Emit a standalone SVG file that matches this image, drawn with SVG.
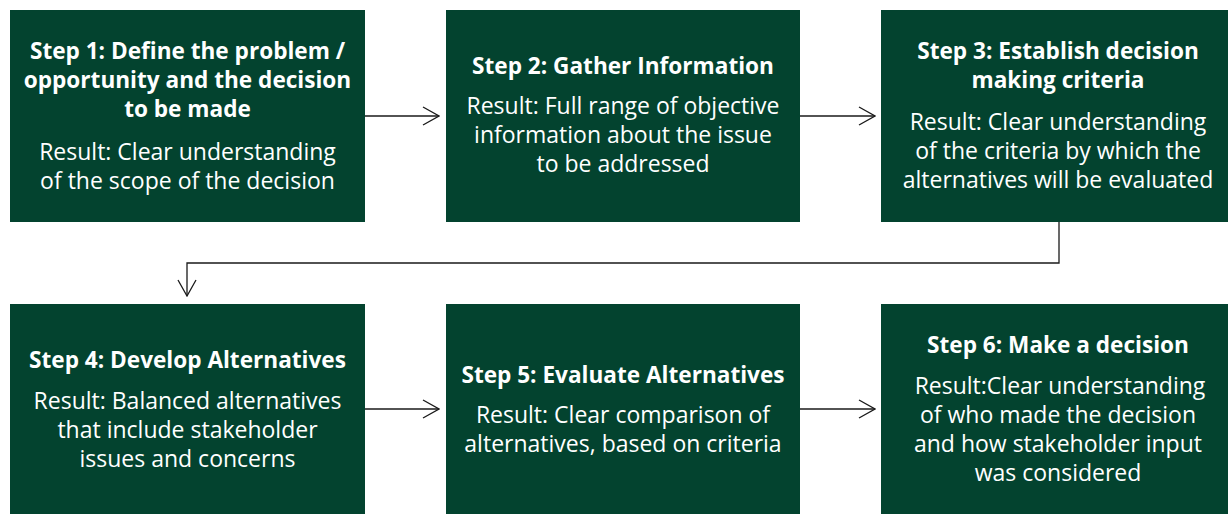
<svg xmlns="http://www.w3.org/2000/svg" width="1230" height="514" viewBox="0 0 1230 514">
  <style>
    .box { fill: #03432f; }
    .t { font-family: "Open Sans", Lato, "Liberation Sans", sans-serif; font-size: 23px; fill: #ffffff; text-anchor: middle; }
    .h { font-weight: bold; font-size: 22.6px; }
    .conn { fill: none; stroke: #1a1a1a; stroke-width: 1.3; }
  </style>
  <defs>
    <marker id="arrow" markerUnits="userSpaceOnUse" viewBox="0 0 18 20" markerWidth="18" markerHeight="20" refX="17" refY="10" orient="auto">
      <path d="M1,1 L17,10 L1,19" fill="none" stroke="#1a1a1a" stroke-width="1.3"/>
    </marker>
  </defs>

  <rect width="1230" height="514" fill="#ffffff"/>

  <g id="step1">
    <rect class="box" x="10" y="10" width="355" height="212"/>
    <text class="t h" x="187.5" y="59">Step 1: Define the problem /</text>
    <text class="t h" x="187.5" y="88">opportunity and the decision</text>
    <text class="t h" x="187.5" y="117">to be made</text>
    <text class="t" x="187.5" y="160">Result: Clear understanding</text>
    <text class="t" x="187.5" y="189">of the scope of the decision</text>
  </g>

  <g id="step2">
    <rect class="box" x="446" y="10" width="354" height="212"/>
    <text class="t h" x="623" y="74">Step 2: Gather Information</text>
    <text class="t" x="623" y="114">Result: Full range of objective</text>
    <text class="t" x="623" y="143">information about the issue</text>
    <text class="t" x="623" y="172">to be addressed</text>
  </g>

  <g id="step3">
    <rect class="box" x="881" y="10" width="347" height="212"/>
    <text class="t h" x="1058" y="59">Step 3: Establish decision</text>
    <text class="t h" x="1058" y="88">making criteria</text>
    <text class="t" x="1058" y="130">Result: Clear understanding</text>
    <text class="t" x="1058" y="159">of the criteria by which the</text>
    <text class="t" x="1058" y="188">alternatives will be evaluated</text>
  </g>

  <g id="step4">
    <rect class="box" x="10" y="304" width="355" height="210"/>
    <text class="t h" x="187.5" y="368">Step 4: Develop Alternatives</text>
    <text class="t" x="187.5" y="409">Result: Balanced alternatives</text>
    <text class="t" x="187.5" y="438">that include stakeholder</text>
    <text class="t" x="187.5" y="467">issues and concerns</text>
  </g>

  <g id="step5">
    <rect class="box" x="446" y="304" width="354" height="210"/>
    <text class="t h" x="623" y="383">Step 5: Evaluate Alternatives</text>
    <text class="t" x="623" y="423">Result: Clear comparison of</text>
    <text class="t" x="623" y="452">alternatives, based on criteria</text>
  </g>

  <g id="step6">
    <rect class="box" x="881" y="304" width="347" height="210"/>
    <text class="t h" x="1058" y="353">Step 6: Make a decision</text>
    <text class="t" x="1060" y="394">Result:Clear understanding</text>
    <text class="t" x="1058" y="423">of who made the decision</text>
    <text class="t" x="1058" y="452">and how stakeholder input</text>
    <text class="t" x="1058" y="481">was considered</text>
  </g>

  <g id="connectors">
    <path class="conn" d="M365,116 L439,116" marker-end="url(#arrow)"/>
    <path class="conn" d="M800,116 L875,116" marker-end="url(#arrow)"/>
    <path class="conn" d="M1059,222 L1059,263 L187,263 L187,296" marker-end="url(#arrow)"/>
    <path class="conn" d="M365,409 L439,409" marker-end="url(#arrow)"/>
    <path class="conn" d="M800,409 L875,409" marker-end="url(#arrow)"/>
  </g>
</svg>
